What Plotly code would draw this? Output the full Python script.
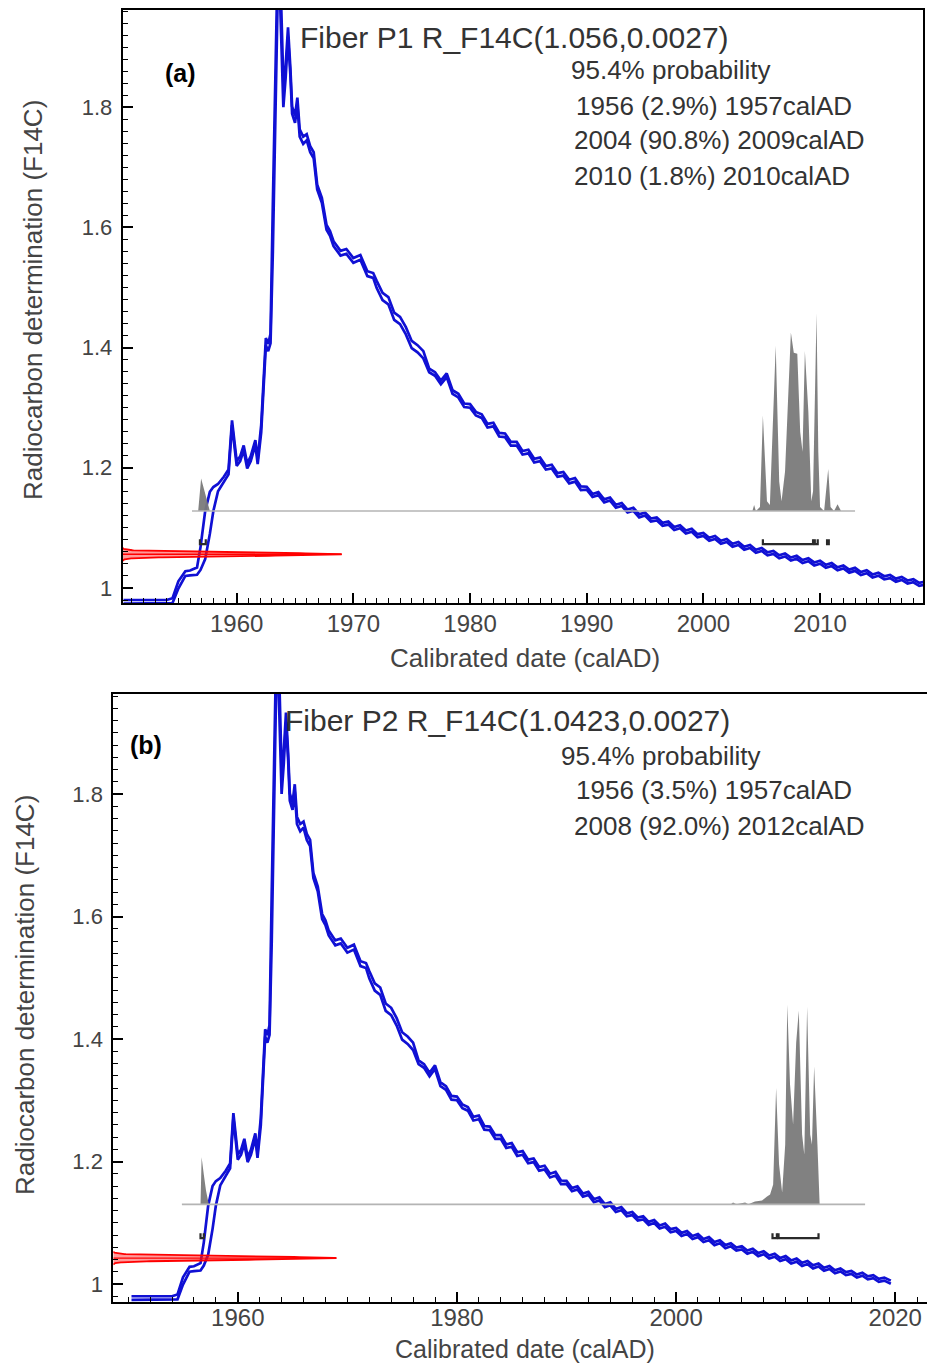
import numpy as np
import plotly.graph_objects as go

# ---------------- data ----------------
cal_year = [1950.3, 1951.0, 1952.0, 1953.0, 1954.0, 1954.5, 1955.0, 1955.6, 1956.0, 1956.6,
            1956.9, 1957.3, 1957.7, 1958.0, 1958.4, 1958.9, 1959.3, 1959.6, 1960.0, 1960.3,
            1960.6, 1960.9, 1961.2, 1961.6, 1961.8, 1962.1, 1962.3, 1962.5, 1962.7, 1962.9,
            1963.1, 1963.3, 1963.5, 1963.7, 1963.85, 1964.0, 1964.2, 1964.4, 1964.6, 1964.75,
            1965.0, 1965.2, 1965.4, 1965.7, 1966.0, 1966.3, 1966.6, 1966.9, 1967.3, 1967.7,
            1968.0, 1968.3, 1968.9, 1969.4, 1970.0, 1970.6, 1971.2, 1971.7,
            1972.0, 1972.5, 1973.0, 1973.5, 1974.0, 1974.5, 1975.0, 1975.5, 1976.0,
            1976.5, 1977.0, 1977.5, 1978.0, 1978.5, 1979.0, 1979.5, 1980.0, 1980.5, 1981.0,
            1981.5, 1982.0, 1982.5, 1983.0, 1983.5, 1984.0, 1984.5, 1985.0, 1985.5, 1986.0,
            1986.5, 1987.0, 1987.5, 1988.0, 1988.5, 1989.0, 1989.5,
            1990.0, 1990.5, 1991.0, 1991.5, 1992.0, 1992.5, 1993.0, 1993.5, 1994.0, 1994.5,
            1995.0, 1995.5, 1996.0, 1996.5, 1997.0, 1997.5, 1998.0, 1998.5, 1999.0, 1999.5,
            2000.0, 2000.5, 2001.0, 2001.5, 2002.0, 2002.5, 2003.0, 2003.5, 2004.0, 2004.5,
            2005.0, 2005.5, 2006.0, 2006.5, 2007.0, 2007.5, 2008.0, 2008.5, 2009.0, 2009.5,
            2010.0, 2010.5, 2011.0, 2011.5, 2012.0, 2012.5, 2013.0, 2013.5, 2014.0, 2014.5,
            2015.0, 2015.5, 2016.0, 2016.5, 2017.0, 2017.5, 2018.0, 2018.5, 2019.0, 2019.6]

cal_f14c = [0.977, 0.977, 0.977, 0.977, 0.977, 0.979, 1.005, 1.024, 1.025, 1.028,
            1.049, 1.088, 1.125, 1.148, 1.167, 1.181, 1.193, 1.275, 1.207, 1.215,
            1.233, 1.203, 1.215, 1.242, 1.210, 1.265, 1.330, 1.410, 1.400, 1.415,
            1.600, 1.850, 2.000, 2.020, 1.900, 1.820, 1.860, 1.925, 1.860, 1.795,
            1.780, 1.810, 1.757, 1.745, 1.750, 1.730, 1.720, 1.667, 1.645, 1.600,
            1.590, 1.573, 1.557, 1.560, 1.545, 1.550, 1.523, 1.520,
            1.505, 1.485, 1.478, 1.452, 1.445, 1.428, 1.405, 1.398, 1.388,
            1.362, 1.356, 1.342, 1.354, 1.326, 1.320, 1.304, 1.303, 1.290, 1.286,
            1.270, 1.272, 1.255, 1.254, 1.240, 1.240, 1.225, 1.227, 1.212, 1.214,
            1.200, 1.202, 1.188, 1.190, 1.177, 1.180, 1.166,
            1.166, 1.154, 1.157, 1.145, 1.148, 1.136, 1.139, 1.128, 1.131, 1.120,
            1.123, 1.113, 1.115, 1.106, 1.108, 1.099, 1.102, 1.093, 1.096, 1.087,
            1.089, 1.081, 1.084, 1.076, 1.079, 1.071, 1.074, 1.066, 1.069, 1.061,
            1.064, 1.057, 1.059, 1.052, 1.055, 1.048, 1.051, 1.044, 1.047, 1.040,
            1.043, 1.036, 1.039, 1.032, 1.035, 1.028, 1.031, 1.024, 1.027, 1.020,
            1.023, 1.017, 1.019, 1.013, 1.016, 1.010, 1.012, 1.006, 1.008, 1.003]

cal_sigma = ([0.003, 0.003, 0.003, 0.003, 0.003, 0.004, 0.006, 0.004, 0.004, 0.006,
              0.019, 0.040, 0.035, 0.020, 0.006, 0.004, 0.004, 0.004, 0.004, 0.004,
              0.004, 0.004, 0.004, 0.004, 0.004, 0.006, 0.008, 0.006, 0.006, 0.008,
              0.040, 0.050, 0.030, 0.030, 0.030, 0.020, 0.010, 0.008, 0.006, 0.006,
              0.006, 0.006, 0.006, 0.006, 0.005, 0.005, 0.005, 0.004, 0.004, 0.004,
              0.004, 0.004, 0.004, 0.004, 0.004, 0.004, 0.004, 0.004]
             + [0.006] * 9 + [0.003] * 27 + [0.0025] * 60)

# measured samples (mean, sigma)
p1_meas = (1.056, 0.0027)
p2_meas = (1.0423, 0.0027)

# calibrated probability distributions (relative density)
p1_year = [1956.7, 1956.95, 1957.2, 1957.45, 1957.7,
           2004.2, 2004.35, 2004.5, 2004.85, 2005.1, 2005.45, 2005.7, 2006.2, 2006.5, 2006.7,
           2007.0, 2007.5, 2007.75, 2008.05, 2008.3, 2008.5, 2008.7, 2009.0, 2009.25, 2009.4,
           2009.7, 2009.85, 2010.0, 2010.35, 2010.7, 2010.9, 2011.2, 2011.5, 2011.8]
p1_prob = [0.0, 0.165, 0.11, 0.05, 0.0,
           0.0, 0.03, 0.0, 0.02, 0.483, 0.05, 0.03, 0.836, 0.15, 0.05,
           0.2, 0.903, 0.8, 0.796, 0.4, 0.3, 0.81, 0.5, 0.05, 0.1,
           1.0, 0.3, 0.02, 0.0, 0.213, 0.02, 0.0, 0.035, 0.0]

p2_year = [1956.6, 1956.7, 1956.9, 1957.1, 1957.35,
           2005.0, 2005.2, 2005.5, 2006.3, 2006.6, 2007.2, 2007.85, 2008.3, 2008.58, 2008.86,
           2009.13, 2009.4, 2009.68, 2009.96, 2010.15, 2010.4, 2010.68, 2010.96, 2011.2, 2011.5,
           2011.7, 2011.96, 2012.24, 2012.4, 2012.6, 2012.9, 2013.1]
p2_prob = [0.0, 0.236, 0.15, 0.07, 0.0,
           0.0, 0.01, 0.0, 0.01, 0.0, 0.015, 0.02, 0.04, 0.05, 0.1,
           0.583, 0.2, 0.06, 0.3, 1.0, 0.6, 0.4, 0.81, 0.97, 0.35,
           0.25, 0.99, 0.35, 0.3, 0.69, 0.3, 0.0]

# 95.4% range brackets (start, end) in calAD
p1_ranges = [(1956.85, 1957.35), (2005.1, 2009.4), (2009.55, 2009.8), (2010.6, 2010.75)]
p2_ranges = [(1956.6, 1956.9), (2008.8, 2009.2), (2009.35, 2013.0)]

# extents of the plotted distribution baseline
p1_span = (1956.17, 2013.0)
p2_span = (1954.9, 2017.25)

p1_text = ["Fiber P1 R_F14C(1.056,0.0027)", "95.4% probability",
           "1956 (2.9%) 1957calAD", "2004 (90.8%) 2009calAD", "2010 (1.8%) 2010calAD"]
p2_text = ["Fiber P2 R_F14C(1.0423,0.0027)", "95.4% probability",
           "1956 (3.5%) 1957calAD", "2008 (92.0%) 2012calAD"]

# ---------------- layout constants ----------------
W, H = 927, 1363
FONT = "Liberation Sans, Arial, sans-serif"
TXT = "#333333"
BLUE = "#1010d4"

top = dict(xr=[1950.23, 2018.85], yr=[0.975, 1.9617],
           xd=[122.7 / W, 923.3 / W], yd=[1 - 603 / H, 1 - 10 / H],
           base=1.128, peak=1.457, bracket_y=1.073, red_tip=1969.0)
bot = dict(xr=[1948.64, 2022.9], yr=[0.9706, 1.9633],
           xd=[113.3 / W, 1.0], yd=[1 - 1302 / H, 1 - 694 / H],
           base=1.13, peak=1.456, bracket_y=1.075, red_tip=1969.0)

cal_f = np.array(cal_f14c)
cal_s = np.array(cal_sigma)
assert len(cal_year) == len(cal_f14c) == len(cal_s)

fig = go.Figure()


def add_panel(ax_x, ax_y, ax_xo, ax_yo, cfg, meas, pyear, pprob, ranges, span):
    # probability (overlay y axis)
    fig.add_trace(go.Scatter(x=pyear, y=pprob, xaxis=ax_x, yaxis=ax_yo, mode="lines",
                             line=dict(color="rgba(128,128,128,1)", width=0),
                             fill="tozeroy", fillcolor="rgba(122,122,122,0.95)",
                             hoverinfo="skip", showlegend=False))
    fig.add_trace(go.Scatter(x=list(span), y=[0, 0], xaxis=ax_x, yaxis=ax_yo, mode="lines",
                             line=dict(color="#b4b4b4", width=1.6), hoverinfo="skip",
                             showlegend=False))
    # calibration curve (+/- 1 sigma)
    for sgn in (1, -1):
        fig.add_trace(go.Scatter(x=cal_year, y=cal_f + sgn * cal_s, xaxis=ax_x, yaxis=ax_y,
                                 mode="lines", line=dict(color=BLUE, width=2.7),
                                 hoverinfo="skip", showlegend=False))
    # range brackets
    for a, b in ranges:
        yb = cfg["bracket_y"]
        fig.add_trace(go.Scatter(x=[a, a, b, b], y=[yb + 0.008, yb, yb, yb + 0.008],
                                 xaxis=ax_x, yaxis=ax_y, mode="lines",
                                 line=dict(color="#2a2a2a", width=2.2),
                                 hoverinfo="skip", showlegend=False))
    # measured F14C distribution (overlay x axis)
    mu, sd = meas
    z = np.linspace(-4, 4, 161)
    dens = np.exp(-0.5 * z ** 2)
    fy = mu + z * sd
    fig.add_trace(go.Scatter(x=np.concatenate([[0], dens, [0]]),
                             y=np.concatenate([[fy[0]], fy, [fy[-1]]]),
                             xaxis=ax_xo, yaxis=ax_y, mode="lines", fill="toself",
                             fillcolor="rgba(255,30,30,0.45)",
                             line=dict(color="#ff0000", width=1.8),
                             hoverinfo="skip", showlegend=False))
    fig.add_trace(go.Scatter(x=[0, 1], y=[mu, mu], xaxis=ax_xo, yaxis=ax_y, mode="lines",
                             line=dict(color="#ff0000", width=1.4),
                             hoverinfo="skip", showlegend=False))


add_panel("x", "y", "x3", "y3", top, p1_meas, p1_year, p1_prob, p1_ranges, p1_span)
add_panel("x2", "y2", "x4", "y4", bot, p2_meas, p2_year, p2_prob, p2_ranges, p2_span)


def xaxis(cfg, anchor, dtick, mdtick, standoff):
    return dict(range=cfg["xr"], domain=cfg["xd"], anchor=anchor,
                showline=True, linecolor="black", linewidth=2, mirror=True,
                ticks="inside", ticklen=10, tickwidth=1.5, tickcolor="black",
                tick0=1960, dtick=dtick, showgrid=False, zeroline=False,
                minor=dict(tick0=1960, dtick=mdtick, ticks="inside", ticklen=5,
                           tickwidth=1, tickcolor="black", showgrid=False),
                ticklabelstandoff=standoff,
                tickfont=dict(family=FONT, size=24, color="#444444"))


def yaxis(cfg, anchor, mirror):
    return dict(range=cfg["yr"], domain=cfg["yd"], anchor=anchor,
                showline=True, linecolor="black", linewidth=2, mirror=mirror,
                ticks="inside", ticklen=10, tickwidth=1.5, tickcolor="black",
                tick0=1, dtick=0.2, showgrid=False, zeroline=False,
                minor=dict(tick0=1, dtick=0.02, ticks="inside", ticklen=5,
                           tickwidth=1, tickcolor="black", showgrid=False),
                ticklabelstandoff=4,
                tickfont=dict(family=FONT, size=22, color="#444444"))


def prob_axis(cfg, overlay, anchor):
    yr = cfg["yr"]
    fb = (cfg["base"] - yr[0]) / (yr[1] - yr[0])
    fp = (cfg["peak"] - yr[0]) / (yr[1] - yr[0])
    span = 1.0 / (fp - fb)
    return dict(overlaying=overlay, anchor=anchor, range=[-fb * span, (1 - fb) * span],
                visible=False, showgrid=False, zeroline=False)


def dens_axis(cfg, overlay, anchor):
    xr = cfg["xr"]
    return dict(overlaying=overlay, anchor=anchor,
                range=[0, (xr[1] - xr[0]) / (cfg["red_tip"] - xr[0])],
                visible=False, showgrid=False, zeroline=False)


fig.update_layout(
    width=W, height=H, margin=dict(l=0, r=0, t=0, b=0),
    paper_bgcolor="white", plot_bgcolor="white", showlegend=False,
    xaxis=xaxis(top, "y", 10, 1, -2),
    yaxis=yaxis(top, "x", True),
    xaxis2=xaxis(bot, "y2", 20, 2, -7),
    yaxis2=yaxis(bot, "x2", False),
    xaxis3=dens_axis(top, "x", "y"),
    yaxis3=prob_axis(top, "y", "x"),
    xaxis4=dens_axis(bot, "x2", "y2"),
    yaxis4=prob_axis(bot, "y2", "x2"),
)


def ann(text, px, py, xanchor="left", size=26, color=TXT, angle=0, bold=False):
    fig.add_annotation(text=("<b>%s</b>" % text) if bold else text,
                       x=px / W, y=1 - py / H, xref="paper", yref="paper",
                       xanchor=xanchor, yanchor="middle", showarrow=False, textangle=angle,
                       font=dict(family=FONT, size=size, color=color))


# panel (a)
ann("(a)", 163, 73, size=25, color="black", bold=True)
ann(p1_text[0], 298, 38, size=30)
ann(p1_text[1], 670, 70, xanchor="center", size=26)
ann(p1_text[2], 574, 106, size=26)
ann(p1_text[3], 572, 140, size=26)
ann(p1_text[4], 572, 176, size=26)
ann("Calibrated date (calAD)", 525, 658, xanchor="center", size=26, color="#444444")
ann("Radiocarbon determination (F14C)", 33, 300, xanchor="center", size=26,
    color="#444444", angle=-90)

# panel (b)
ann("(b)", 128, 745, size=25, color="black", bold=True)
ann(p2_text[0], 283, 720, size=30)
ann(p2_text[1], 660, 756, xanchor="center", size=26)
ann(p2_text[2], 574, 790, size=26)
ann(p2_text[3], 572, 826, size=26)
ann("Calibrated date (calAD)", 525, 1349, xanchor="center", size=25, color="#444444")
ann("Radiocarbon determination (F14C)", 25, 995, xanchor="center", size=26,
    color="#444444", angle=-90)

fig.write_html("out.html")
